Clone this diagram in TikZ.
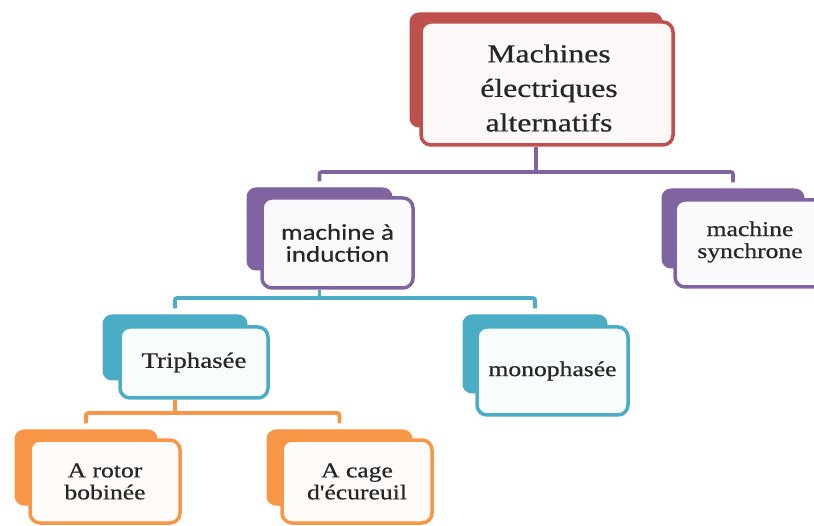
\documentclass[tikz,border=0pt]{standalone}
\usepackage{fontspec}
\setmainfont{Liberation Serif}[FakeStretch=1.22,FakeBold=0.6]
\newfontfamily\calfont{Carlito}[FakeStretch=1.2,FakeBold=0.4]
\newfontfamily\aposfont{Liberation Serif}[FakeStretch=1.22,FakeBold=0.6,Ligatures=ResetAll]
\usetikzlibrary{calc}
\definecolor{cred}{HTML}{C0504D}
\definecolor{cpurple}{HTML}{8064A2}
\definecolor{cteal}{HTML}{4BACC6}
\definecolor{corange}{HTML}{F79646}
\definecolor{ctext}{HTML}{262626}
\tikzset{
  bk/.style={draw=#1, fill=#1, line width=1pt, rounded corners=9pt, inner sep=0pt},
  fr/.style={draw=#1, fill=#1!4!white, line width=3.5pt, rounded corners=10pt, inner sep=0pt, align=center, text=ctext},
  conn/.style={draw=#1, line width=3.6pt, rounded corners=2pt},
  big/.style={font=\fontsize{26}{34.5}\selectfont},
  mid/.style={font=\fontsize{21}{22}\selectfont},
  sans/.style={font=\calfont\fontsize{22.5}{22}\selectfont}
}
\begin{document}
\begin{tikzpicture}[x=1pt,y=-1pt]
\useasboundingbox (0,0) rectangle (814,526);
\clip (0,0) rectangle (814,526);
% top
\node[bk=cred, minimum width=252pt, minimum height=114pt] (topB) at (536,70) {};
\node[fr=cred, big, minimum width=252pt, minimum height=123pt] (top) at (547,83.5) {};
\node[big, text=ctext, align=center] (topT) at (549,88) {Machines\\électriques\\alternatifs};
% level 2
\node[bk=cpurple, minimum width=145pt, minimum height=82pt] (indB) at (319.5,229) {};
\node[fr=cpurple, sans, minimum width=151pt, minimum height=90pt] (ind) at (337.5,243) {machine à\\induction};
\node[bk=cpurple, minimum width=142pt, minimum height=79pt] (synB) at (733,228.5) {};
\node[fr=cpurple, mid, minimum width=165pt, minimum height=87pt] (syn) at (757.5,243.5) {};
\node[mid, text=ctext, align=center] (synT) at (750,242) {machine\\synchrone};
% level 3
\node[bk=cteal, minimum width=144pt, minimum height=65pt] (triB) at (175,347.5) {};
\node[fr=cteal, mid, font=\fontsize{22}{22}\selectfont, minimum width=148pt, minimum height=71pt] (tri) at (194,362.5) {Triphasée};
\node[bk=cteal, minimum width=144pt, minimum height=78pt] (monoB) at (535,354) {};
\node[fr=cteal, mid, minimum width=151pt, minimum height=88pt] (mono) at (552.5,371) {monophasée};
% level 4
\node[bk=corange, minimum width=142pt, minimum height=75pt] (rotB) at (86,467.5) {};
\node[fr=corange, mid, minimum width=150pt, minimum height=83pt] (rot) at (105,481.5) {A rotor\\bobinée};
\node[bk=corange, minimum width=145pt, minimum height=75pt] (cagB) at (339.5,467.5) {};
\node[fr=corange, mid, minimum width=150pt, minimum height=83pt] (cag) at (357,481.5) {A cage\\d{\aposfont '}écureuil};
% connectors
\coordinate (j1) at (536,172);
\draw[conn=cpurple] (top.south -| topB.center) -- (j1);
\draw[conn=cpurple] ($(indB.north)+(0,-6)$) |- (j1) -| ($(synB.north)+(0,-6)$);
\coordinate (j2) at (319.5,298);
\draw[conn=cteal] (ind.south -| indB.center) -- (j2);
\draw[conn=cteal] ($(triB.north)+(0,-6)$) |- (j2) -| ($(monoB.north)+(0,-6)$);
\coordinate (j3) at (175,413);
\draw[conn=corange] (tri.south -| triB.center) -- (j3);
\draw[conn=corange] ($(rotB.north)+(0,-6)$) |- (j3) -| ($(cagB.north)+(0,-6)$);
\end{tikzpicture}
\end{document}
